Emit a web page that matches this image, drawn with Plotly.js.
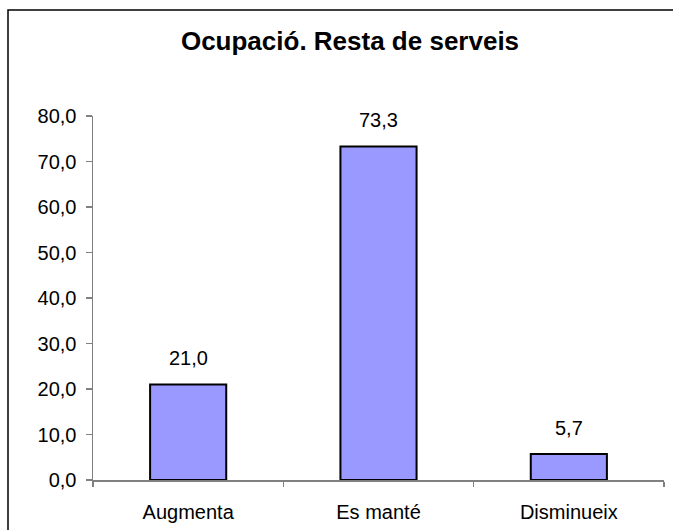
<!DOCTYPE html>
<html>
<head>
<meta charset="utf-8">
<script src="https://cdn.plot.ly/plotly-3.0.1.min.js"></script>
<style>
  html, body { margin: 0; padding: 0; background: #fff; }
  #chart { width: 673px; height: 530px; }
</style>
</head>
<body>
<div id="chart"></div>
<script>
const categories = ["Augmenta", "Es manté", "Disminueix"];
const values = [21.0, 73.3, 5.7];
const titleText = "Ocupació. Resta de serveis";

const fmt = v => v.toFixed(1).replace(".", ",");

const W = 673, H = 530;
const L = 93, R = 9, T = 116, B = 50;
const pw = W - L - R, ph = H - T - B;
const FONT = "Liberation Sans, Arial, sans-serif";

const trace = {
  type: "bar",
  x: categories,
  y: values,
  marker: { color: "#9999FF", line: { color: "#000000", width: 2 } },
  hoverinfo: "x+y"
};

const annotations = categories.map((c, i) => ({
  x: c, y: values[i], xref: "x", yref: "y",
  text: fmt(values[i]), showarrow: false,
  yanchor: "middle", yshift: 26,
  font: { family: FONT, size: 20, color: "#000" }
}));

const layout = {
  width: W, height: H,
  margin: { l: L, r: R, t: T, b: B, pad: 0 },
  paper_bgcolor: "#fff", plot_bgcolor: "#fff",
  separators: ",.",
  bargap: 0.6,
  showlegend: false,
  font: { family: FONT, size: 20, color: "#000" },
  title: {
    text: "<b>" + titleText + "</b>",
    font: { family: FONT, size: 26, color: "#000" },
    x: 350 / W, xref: "container", xanchor: "center",
    y: 1 - 41 / H, yref: "container", yanchor: "middle"
  },
  xaxis: {
    type: "category",
    showgrid: false, zeroline: false,
    showline: true, linecolor: "#808080", linewidth: 1.5,
    ticks: "outside", tickson: "boundaries", ticklen: 5, tickcolor: "#808080", tickwidth: 1.5,
    tickfont: { size: 20 },
    ticklabelstandoff: 13,
    fixedrange: true
  },
  yaxis: {
    range: [0, 80], dtick: 10, tick0: 0, tickformat: ".1f",
    showgrid: false, zeroline: false,
    showline: true, linecolor: "#808080", linewidth: 1.5,
    ticks: "outside", ticklen: 6, tickcolor: "#808080", tickwidth: 1.5,
    tickfont: { size: 20 },
    ticklabelstandoff: 5,
    fixedrange: true
  },
  annotations: annotations,
  shapes: [{
    type: "rect", xref: "paper", yref: "paper",
    x0: (8 - L) / pw, x1: (W + 20 - L) / pw,
    y0: -(B + 20) / ph, y1: (H - B - 10) / ph,
    line: { color: "#000", width: 1.5 }, fillcolor: "rgba(0,0,0,0)",
    layer: "below"
  }]
};

Plotly.newPlot("chart", [trace], layout, { displayModeBar: false, staticPlot: true });
</script>
</body>
</html>
